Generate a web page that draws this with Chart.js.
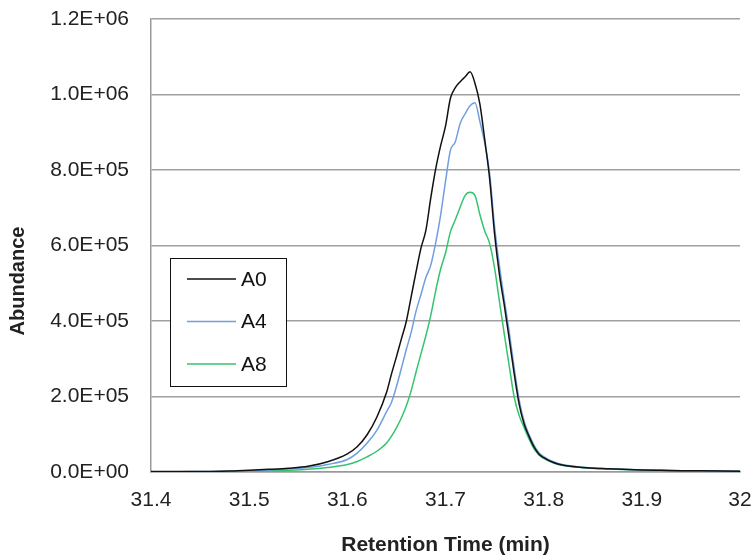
<!DOCTYPE html>
<html>
<head>
<meta charset="utf-8">
<script src="https://cdn.jsdelivr.net/npm/chart.js@4"></script>
<style>
  html, body { margin: 0; padding: 0; background: #fff; }
  #wrap { width: 756px; height: 558px; }
</style>
</head>
<body>
<div id="wrap"><canvas id="chart" width="756" height="558"></canvas></div>
<script>
// retention time (min)
const tiempos = [31.40, 31.42, 31.44, 31.46, 31.48, 31.50, 31.52, 31.54, 31.56, 31.58,
  31.60, 31.61, 31.62, 31.63, 31.64, 31.645, 31.65, 31.655, 31.66, 31.665,
  31.67, 31.675, 31.68, 31.685, 31.69, 31.695, 31.70, 31.705, 31.71, 31.715,
  31.72, 31.725, 31.73, 31.735, 31.74, 31.745, 31.75, 31.755, 31.76, 31.765,
  31.77, 31.775, 31.78, 31.785, 31.79, 31.795, 31.80, 31.81, 31.82, 31.84,
  31.86, 31.88, 31.90, 31.92, 31.94, 31.96, 31.98, 32.00];

const serieA0 = [1000, 1000, 1200, 1500, 2500, 4500, 7000, 10000, 15000, 27000,
  48000, 67000, 98000, 145000, 211000, 260000, 305000, 352000, 398000, 464000,
  530000, 593000, 640000, 726000, 803000, 864000, 916000, 990000, 1018000, 1034000,
  1047000, 1060000, 1030000, 975000, 880000, 776000, 630000, 522000, 440000, 351000,
  260000, 180000, 128000, 95000, 67000, 48000, 38000, 25000, 18000, 12000,
  9000, 7000, 5500, 4500, 3500, 3000, 2500, 2000];

const serieA4 = [800, 900, 1000, 1300, 2000, 3500, 5500, 8000, 12000, 20000,
  33000, 50000, 76000, 110000, 160000, 185000, 226000, 274000, 324000, 370000,
  426000, 470000, 515000, 548000, 607000, 680000, 770000, 852000, 875000, 924000,
  949000, 970000, 978000, 929000, 871000, 790000, 650000, 545000, 455000, 370000,
  275000, 192000, 135000, 100000, 72000, 52000, 41000, 27000, 19000, 12500,
  9000, 7000, 5500, 4500, 3500, 3000, 2500, 2000];

const serieA8 = [500, 600, 700, 900, 1200, 2000, 3000, 4500, 7000, 12000,
  20000, 28000, 40000, 55000, 77000, 95000, 117000, 143000, 175000, 215000,
  265000, 313000, 361000, 415000, 480000, 537000, 580000, 636000, 668000, 702000,
  733000, 741000, 733000, 682000, 638000, 605000, 540000, 451000, 363000, 280000,
  198000, 150000, 118000, 88000, 62000, 46000, 36000, 24000, 17000, 11500,
  8500, 6500, 5000, 4200, 3400, 2800, 2300, 1800];

const nombres = ["A0", "A4", "A8"];
const colores = ["#111111", "#6f9fe0", "#35c46e"];
const series = [serieA0, serieA4, serieA8];
const tituloY = "Abundance";

const fuente = "'Liberation Sans', Arial, sans-serif";

function sci(v) {
  if (v === 0) return "0.0E+00";
  const e = Math.floor(Math.log10(v) + 1e-9);
  const m = v / Math.pow(10, e);
  return m.toFixed(1) + "E+" + String(e).padStart(2, "0");
}

// legend box inside the plot, like the excel one + y title a bit low like the original
const leyendaCaja = {
  id: "leyendaCaja",
  afterDraw(chart) {
    const ctx = chart.ctx;
    const a = chart.chartArea;
    const x0 = a.left + 19, y0 = 258, w = 116, h = 128;
    ctx.save();
    ctx.fillStyle = "#fff";
    ctx.fillRect(x0, y0, w, h);
    ctx.strokeStyle = "#111";
    ctx.lineWidth = 1;
    ctx.strokeRect(x0 + 0.5, y0 + 0.5, w, h);
    ctx.font = "21px " + fuente;
    ctx.textBaseline = "middle";
    chart.data.datasets.forEach((ds, i) => {
      const y = y0 + 21 + i * 42.5;
      ctx.strokeStyle = ds.borderColor;
      ctx.lineWidth = 1.5;
      ctx.beginPath();
      ctx.moveTo(x0 + 17, y);
      ctx.lineTo(x0 + 66, y);
      ctx.stroke();
      ctx.fillStyle = "#111";
      ctx.fillText(ds.label, x0 + 71, y + 1);
    });

    ctx.translate(18, 281);
    ctx.rotate(-Math.PI / 2);
    ctx.font = "bold 20px " + fuente;
    ctx.fillStyle = "#222";
    ctx.textAlign = "center";
    ctx.textBaseline = "middle";
    ctx.fillText(tituloY, 0, 0);
    ctx.restore();
  }
};

const data = {
  datasets: series.map((s, i) => ({
    label: nombres[i],
    data: tiempos.map((t, j) => ({ x: t, y: s[j] })),
    borderColor: colores[i],
    backgroundColor: colores[i],
    borderWidth: 1.5,
    pointRadius: 0,
    tension: 0.3,
    cubicInterpolationMode: "monotone",
    fill: false
  }))
};

const config = {
  type: "line",
  data: data,
  options: {
    responsive: false,
    animation: false,
    layout: { padding: { left: 0, right: 16, top: 19, bottom: 0 } },
    plugins: {
      legend: { display: false },
      tooltip: { enabled: false }
    },
    scales: {
      x: {
        type: "linear",
        min: 31.4,
        max: 32,
        ticks: {
          stepSize: 0.1,
          color: "#222",
          font: { family: fuente, size: 21 },
          padding: 16,
          maxRotation: 0,
          callback: v => String(+v.toFixed(1))
        },
        grid: { display: false, drawTicks: false },
        border: { display: true, color: "#999", width: 1.5 },
        title: {
          display: true,
          text: "Retention Time (min)",
          color: "#222",
          font: { family: fuente, size: 21, weight: "bold" },
          padding: { top: 6, bottom: 0 }
        },
        afterFit: s => {
          s.height = 86;
          s.paddingLeft = 0;
          s.paddingRight = 0;
        }
      },
      y: {
        min: 0,
        max: 1200000,
        ticks: {
          stepSize: 200000,
          color: "#222",
          font: { family: fuente, size: 21 },
          padding: 22,
          callback: v => sci(v)
        },
        grid: { color: "#a0a0a0", lineWidth: 1.5, drawTicks: false },
        border: { display: true, color: "#999", width: 1.5 },
        title: { display: false },
        afterFit: s => {
          s.width = 151;
          s.paddingTop = 0;
          s.paddingBottom = 0;
        }
      }
    }
  },
  plugins: [leyendaCaja]
};

const chart = new Chart(document.getElementById("chart").getContext("2d"), config);
</script>
</body>
</html>
